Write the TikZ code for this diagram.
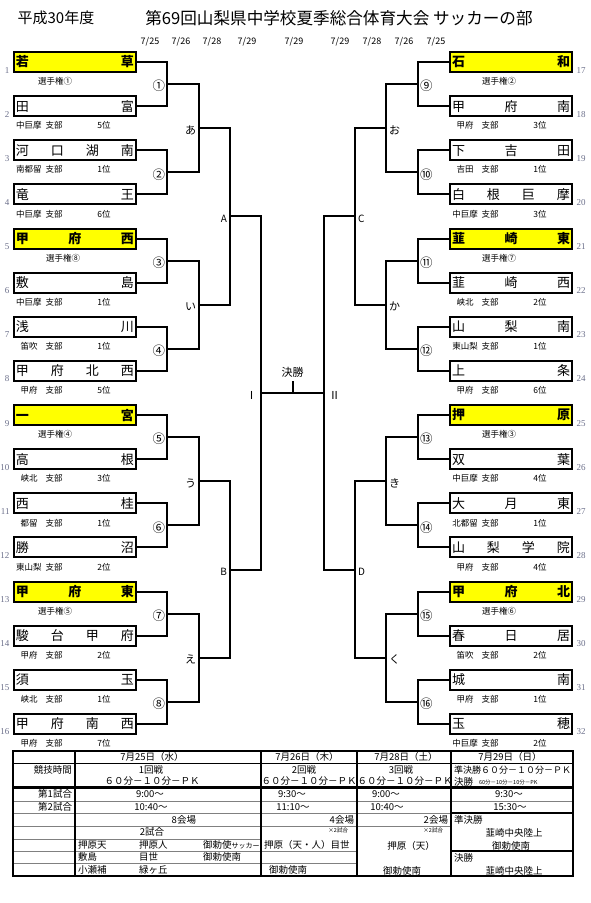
\documentclass[tikz,border=0pt]{standalone}
\usepackage{fontspec}
\setmainfont{Noto Sans CJK JP}
\newfontfamily\numfont{Liberation Serif}
\usetikzlibrary{calc}
\definecolor{cseed}{HTML}{FFFF00}
\definecolor{cnum}{HTML}{6B6F8A}
\definecolor{crule}{HTML}{808080}
\newcommand\spreadname[1]{\makebox[118pt]{\spreadfirst#1\relax}}
\def\spreadfirst#1{#1\spreadrest}
\def\spreadrest#1{\ifx#1\relax\else\hfill#1\expandafter\spreadrest\fi}
\newcommand\spreadx[1]{\expandafter\spreadname\expandafter{#1}}
\tikzset{
  every picture/.style={line width=2pt},
  team/.style={draw, line width=2pt, minimum width=122pt, minimum height=20pt, inner sep=0pt, font=\fontsize{13}{13}\selectfont},
  seed/.style={team, fill=cseed, font=\fontsize{13}{13}\selectfont\bfseries},
  num/.style={font=\numfont\fontsize{9}{9}\selectfont, text=cnum, inner sep=0pt},
  sub/.style={font=\fontsize{8.5}{8.5}\selectfont, inner sep=0pt},
  bracket/.style={line width=2pt},
  matchno/.style={font=\fontsize{12.5}{12.5}\selectfont, inner sep=1pt},
  roundlbl/.style={font=\fontsize{11}{11}\selectfont, inner sep=2pt},
  day/.style={font=\fontsize{9}{9}\selectfont, inner sep=0pt},
  cell/.style={font=\fontsize{9.5}{9.5}\selectfont, inner sep=0pt},
  smallnote/.style={font=\fontsize{5.5}{5.5}\selectfont, inner sep=0pt},
  gridline/.style={draw=crule, line width=0.9pt},
}

\begin{document}
\begin{tikzpicture}[x=1pt, y=-1pt]
  \useasboundingbox (0,0) rectangle (591,903);

  % heading
  \node[font=\fontsize{15}{15}\selectfont, inner sep=0pt] (year) at (56,18) {平成30年度};
  \node[font=\fontsize{16.6}{16.6}\selectfont, inner sep=0pt] (title) at (339,18) {第69回山梨県中学校夏季総合体育大会 サッカーの部};
  \foreach \x/\m/\d [count=\i] in {150/7/25,181/7/26,212/7/28,247/7/29,294/7/29,340/7/29,372/7/28,404/7/26,436/7/25}
    \node[day] (day\i) at (\x,42) {\m/\d};

  % teams
  \foreach \n/\name/\reg/\rk in {2/田富/中巨摩/5, 3/河口湖南/南都留/1, 4/竜王/中巨摩/6, 6/敷島/中巨摩/1,
      7/浅川/笛吹/1, 8/甲府北西/甲府/5, 10/高根/峡北/3, 11/西桂/都留/1, 12/勝沼/東山梨/2,
      14/駿台甲府/甲府/2, 15/須玉/峡北/1, 16/甲府南西/甲府/7, 18/甲府南/甲府/3, 19/下吉田/吉田/1,
      20/白根巨摩/中巨摩/3, 22/韮崎西/峡北/2, 23/山梨南/東山梨/1, 24/上条/甲府/6, 26/双葉/中巨摩/4,
      27/大月東/北都留/1, 28/山梨学院/甲府/4, 30/春日居/笛吹/2, 31/城南/甲府/1, 32/玉穂/中巨摩/2} {
    \pgfmathsetmacro\bx{\n>16 ? 511 : 75}
    \pgfmathsetmacro\by{62+mod(\n-1,16)*44.13}
    \node[team] (t\n) at (\bx,\by) {\spreadx\name};
    \node[sub] (reg\n) at ($(t\n.west)+(16,19.5)$) {\reg};
    \node[sub] (br\n) at ($(t\n.west)+(41,19.5)$) {支部};
    \node[sub] (rk\n) at ($(t\n.west)+(91,19.5)$) {\rk 位};
  }
  \foreach \n/\name/\cn/\off in {1/若草/①/42, 5/甲府西/⑧/50, 9/一宮/④/42, 13/甲府東/⑤/42,
      17/石和/②/50, 21/韮崎東/⑦/50, 25/押原/③/50, 29/甲府北/⑥/50} {
    \pgfmathsetmacro\bx{\n>16 ? 511 : 75}
    \pgfmathsetmacro\by{62+mod(\n-1,16)*44.13}
    \node[seed] (t\n) at (\bx,\by) {\spreadx\name};
    \node[sub] (sd\n) at ($(t\n.west)+(\off,19.5)$) {選手権\cn};
  }
  \foreach \n in {1,...,32} {
    \ifnum\n>16
      \node[num, anchor=base west] (no\n) at ($(t\n.south east)+(2.5,0)$) {\n};
    \else
      \node[num, anchor=base east] (no\n) at ($(t\n.south west)+(-2.5,0)$) {\n};
    \fi
  }

  % bracket joints
  \foreach \k in {1,...,16} {
    \pgfmathsetmacro\mx{\k>8 ? 418 : 167}
    \coordinate (m\k) at (\mx,{62+(2*mod(\k-1,8)+0.5)*44.13});
  }
  \foreach \j in {1,...,8} {
    \pgfmathsetmacro\rx{\j>4 ? 386 : 199}
    \coordinate (r\j) at (\rx,{62+(4*mod(\j-1,4)+1.5)*44.13});
  }
  \foreach \s in {1,...,4} {
    \pgfmathsetmacro\qx{\s>2 ? 355 : 230}
    \coordinate (q\s) at (\qx,{62+(8*mod(\s-1,2)+3.5)*44.13});
  }
  \coordinate (f1) at (261,{62+7.5*44.13});
  \coordinate (f2) at (324,{62+7.5*44.13});
  \coordinate (fc) at (292.5,{62+7.5*44.13});

  \foreach \k in {1,...,16} {
    \pgfmathtruncatemacro\a{2*\k-1}
    \pgfmathtruncatemacro\b{2*\k}
    \ifnum\k>8
      \draw[bracket] (t\a.west) -| (m\k) |- (t\b.west);
    \else
      \draw[bracket] (t\a.east) -| (m\k) |- (t\b.east);
    \fi
  }
  \foreach \j in {1,...,8} {
    \pgfmathtruncatemacro\a{2*\j-1}
    \pgfmathtruncatemacro\b{2*\j}
    \draw[bracket] (m\a) -| (r\j) |- (m\b);
  }
  \foreach \s in {1,...,4} {
    \pgfmathtruncatemacro\a{2*\s-1}
    \pgfmathtruncatemacro\b{2*\s}
    \draw[bracket] (r\a) -| (q\s) |- (r\b);
  }
  \draw[bracket] (q1) -| (f1) |- (q2);
  \draw[bracket] (q3) -| (f2) |- (q4);
  \draw[bracket] (f1) -- (f2);
  \node[font=\fontsize{11}{11}\selectfont] (final) at (292.5,372) {決勝};
  \draw[bracket] (final) -- (fc);

  % labels on the bracket
  \foreach \k/\c in {1/①,2/②,3/③,4/④,5/⑤,6/⑥,7/⑦,8/⑧,9/⑨,10/⑩,11/⑪,12/⑫,13/⑬,14/⑭,15/⑮,16/⑯} {
    \ifnum\k>8
      \node[matchno, anchor=west] (mn\k) at ($(m\k)+(0,2)$) {\c};
    \else
      \node[matchno, anchor=east] (mn\k) at ($(m\k)+(0,2)$) {\c};
    \fi
  }
  \foreach \j/\c in {1/あ,2/い,3/う,4/え,5/お,6/か,7/き,8/く} {
    \ifnum\j>4
      \node[roundlbl, anchor=west] (rl\j) at ($(r\j)+(0,2)$) {\c};
    \else
      \node[roundlbl, anchor=east] (rl\j) at ($(r\j)+(0,2)$) {\c};
    \fi
  }
  \foreach \s/\c in {1/A,2/B,3/C,4/D} {
    \ifnum\s>2
      \node[roundlbl, font=\fontsize{10}{10}\selectfont, anchor=west] (ql\s) at ($(q\s)+(0,2)$) {\c};
    \else
      \node[roundlbl, font=\fontsize{10}{10}\selectfont, anchor=east] (ql\s) at ($(q\s)+(0,2)$) {\c};
    \fi
  }
  \node[roundlbl, anchor=east, inner sep=3pt] (fl1) at ($(f1)+(0,2)$) {Ⅰ};
  \node[roundlbl, anchor=west, inner sep=4pt] (fl2) at ($(f2)+(0,2)$) {Ⅱ};

  % schedule table
  \draw[line width=1pt] (13,763) -- (573,763);
  \draw[line width=3pt] (13,787) -- (573,787);
  \draw[gridline] (13,801) -- (573,801);
  \draw[gridline] (13,813) -- (451,813);
  \draw[line width=1.5pt] (451,813) -- (573,813);
  \draw[gridline] (13,826) -- (451,826);
  \draw[gridline] (13,839) -- (261,839);
  \draw[gridline] (13,851) -- (357,851);
  \draw[line width=1.5pt] (451,851) -- (573,851);
  \draw[gridline] (13,863) -- (357,863);
  \foreach \x in {75,261,357,451} \draw[line width=1.8pt] (\x,751) -- (\x,876);
  \draw[line width=2pt] (13,751) rectangle (573,876);

  \foreach \x/\y/\t [count=\i] in {152/757/7月25日（水）, 307/757/7月26日（木）, 406/757/7月28日（土）,
      510/757/7月29日（日）, 151/770/1回戦, 152/781/６０分－１０分－ＰＫ, 304/770/2回戦,
      309/781/６０分－１０分－ＰＫ, 401/770/3回戦, 405/781/６０分－１０分－ＰＫ,
      150/794/9:00～, 292/794/9:30～, 386/794/9:00～, 509/794/9:30～,
      151/807/10:40～, 293/807/11:10～, 387/807/10:40～, 510/807/15:30～,
      152/832/2試合, 514/833/韮崎中央陸上, 411/846/押原（天）, 511/846/御勅使南,
      288/870/御勅使南, 402/871/御勅使南, 514/871/韮崎中央陸上}
    \node[cell] (cc\i) at (\x,\y) {\t};
  \foreach \x/\y/\t [count=\i] in {453/782/決勝, 453/820/準決勝, 77/845/押原天, 138/845/押原人,
      263/845/押原（天・人）目世, 77/857/敷島, 138/857/目世, 202/857/御勅使南, 453/858/決勝,
      77/870/小瀬補, 138/870/緑ヶ丘}
    \node[cell, anchor=west] (cw\i) at (\x,\y) {\t};
  \node[cell, font=\fontsize{9}{9}\selectfont, anchor=west] (semi) at (453,770) {準決勝６０分－１０分－ＰＫ};
  \node[cell, anchor=west] (misc) at (202,845) {御勅使{\fontsize{7}{7}\selectfont サッカー}};
  \foreach \x/\y/\t [count=\i] in {73/770/競技時間, 73/794/第1試合, 73/807/第2試合,
      197/820/8会場, 355/820/4会場, 449/820/2会場}
    \node[cell, anchor=east] (ce\i) at (\x,\y) {\t};
  \node[smallnote, anchor=west] (extra) at (478,782) {60分－10分－10分－PK};
  \node[smallnote, anchor=east] (twice1) at (349,830) {×2試合};
  \node[smallnote, anchor=east] (twice2) at (444,830) {×2試合};
\end{tikzpicture}
\end{document}
